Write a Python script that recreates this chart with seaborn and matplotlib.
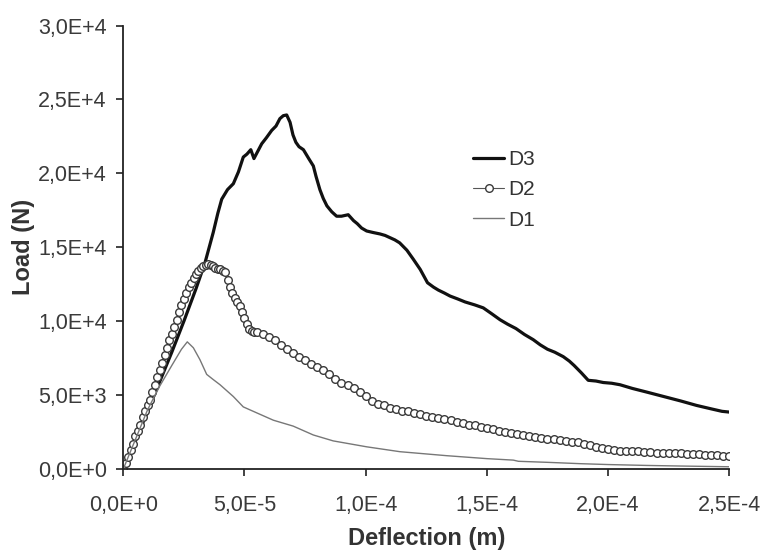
import numpy as np
import pandas as pd
import matplotlib
matplotlib.use("Agg")
import matplotlib.pyplot as plt
from matplotlib.ticker import FuncFormatter
import seaborn as sns

# deflection in micrometres, load in kN
d3_defl = [0, 5, 10, 15, 20, 25, 30, 33.7, 37.1, 39, 40.6, 43, 45.4, 47.5, 49.5, 51, 52.6,
           53.9, 55.5, 57.1, 59, 61.2, 63, 64.6, 66, 67.4, 68.8, 70, 71.2, 72.5, 74.3, 76.5,
           78.4, 79.5, 81.1, 82.5, 84, 86, 88, 90, 92.8, 95, 96.5, 98.3, 100.4, 103, 105.9,
           108, 110, 112, 114, 117, 119.6, 122.5, 125.5, 128, 130, 132.5, 134.8, 138, 141,
           145, 148.5, 152, 155.4, 158.5, 162, 165.5, 169.1, 172, 175, 178, 181.5, 184, 186,
           189, 191.8, 195, 198, 201.5, 204.9, 210, 216, 223, 230, 236.5, 243, 247, 250]
d3_load = [0, 1.9, 3.9, 5.9, 7.9, 10.0, 12.2, 13.95, 16.0, 17.3, 18.25, 18.9, 19.3, 20.1, 21.1,
           21.3, 21.6, 21.0, 21.5, 22.0, 22.4, 22.9, 23.2, 23.7, 23.9, 23.95, 23.45, 22.6, 22.1,
           21.8, 21.6, 21.0, 20.5, 19.8, 18.9, 18.3, 17.8, 17.4, 17.1, 17.1, 17.2, 16.8, 16.6,
           16.3, 16.1, 16.0, 15.9, 15.8, 15.65, 15.5, 15.3, 14.8, 14.2, 13.5, 12.6, 12.3, 12.1,
           11.9, 11.7, 11.5, 11.3, 11.1, 10.9, 10.5, 10.1, 9.8, 9.5, 9.1, 8.75, 8.4, 8.1, 7.9,
           7.6, 7.3, 7.0, 6.5, 6.0, 5.95, 5.85, 5.8, 5.7, 5.45, 5.2, 4.9, 4.6, 4.3, 4.05, 3.9,
           3.85]

d2_defl = [0, 1, 2, 3, 4, 5, 6, 7, 8, 9, 10, 11, 12, 13, 14, 15, 16, 17, 18, 19, 20,
           21, 22, 23, 24, 25, 26, 27, 28, 29, 30, 31, 32, 33, 34, 35, 36, 37, 38, 39, 40,
           41, 42, 43, 44, 45, 46, 47, 48, 49, 50, 51, 52, 53, 54, 55,
           57.5, 60, 62.5, 65, 67.5, 70, 72.5, 75, 77.5, 80, 82.5, 85, 87.5, 90, 92.5, 95,
           97.5, 100, 102.5, 105, 107.5, 110, 112.5, 115, 117.5, 120, 122.5, 125, 127.5,
           130, 132.5, 135, 137.5, 140, 142.5, 145, 147.5, 150, 152.5, 155, 157.5, 160,
           162.5, 165, 167.5, 170, 172.5, 175, 177.5, 180, 182.5, 185, 187.5, 190, 192.5,
           195, 197.5, 200, 202.5, 205, 207.5, 210, 212.5, 215, 217.5, 220, 222.5, 225,
           227.5, 230, 232.5, 235, 237.5, 240, 242.5, 245, 247.5, 250]
d2_load = [0, 0.4, 0.8, 1.3, 1.7, 2.2, 2.6, 3.0, 3.5, 3.9, 4.3, 4.7, 5.2, 5.7, 6.2, 6.7, 7.2,
           7.7, 8.2, 8.7, 9.1, 9.6, 10.1, 10.6, 11.1, 11.5, 11.9, 12.3, 12.6, 12.9, 13.2, 13.4,
           13.6, 13.7, 13.8, 13.85, 13.8, 13.7, 13.6, 13.5, 13.5, 13.4, 13.3, 12.8, 12.3, 11.9,
           11.6, 11.3, 11.0, 10.6, 10.2, 9.8, 9.5, 9.35, 9.3, 9.3,
           9.1, 8.9, 8.7, 8.4, 8.1, 7.85, 7.6, 7.4, 7.1, 6.9, 6.7, 6.45, 6.1, 5.85, 5.65, 5.45,
           5.2, 4.95, 4.6, 4.4, 4.3, 4.15, 4.05, 3.95, 3.9, 3.8, 3.7, 3.6, 3.5,
           3.45, 3.35, 3.3, 3.2, 3.1, 3.0, 2.95, 2.85, 2.75, 2.7, 2.6, 2.5, 2.45,
           2.35, 2.3, 2.2, 2.15, 2.1, 2.05, 2.0, 1.95, 1.9, 1.85, 1.8, 1.7, 1.6,
           1.5, 1.4, 1.35, 1.3, 1.25, 1.25, 1.2, 1.2, 1.15, 1.15, 1.1, 1.1, 1.1,
           1.05, 1.05, 1.0, 1.0, 1.0, 0.95, 0.95, 0.95, 0.9, 0.9]

d1_defl = [0, 5, 10, 15, 20, 24, 26.4, 28.9, 31.6, 34.4, 37.1, 39.9, 45.4, 49.5, 55, 61.9,
           70.1, 78.4, 86.6, 100.4, 114.1, 133.4, 150, 160.9, 163, 175, 188.4, 200, 216,
           230, 250]
d1_load = [0, 2.0, 4.0, 5.6, 7.0, 8.1, 8.6, 8.2, 7.4, 6.4, 6.05, 5.7, 4.9, 4.2, 3.8, 3.3,
           2.9, 2.3, 1.9, 1.5, 1.17, 0.9, 0.7, 0.6, 0.52, 0.45, 0.36, 0.3, 0.24, 0.2, 0.15]

x_ticks = [0, 5e-5, 1e-4, 1.5e-4, 2e-4, 2.5e-4]
y_ticks = [0, 5e3, 1e4, 1.5e4, 2e4, 2.5e4, 3e4]


def sci_comma(v, pos):
    if v == 0:
        return "0,0E+0"
    mant, exp = f"{v:.1E}".split("E")
    return f"{mant.replace('.', ',')}E{int(exp):+d}"


def to_frame(defl, load):
    return pd.DataFrame({"x": np.array(defl) * 1e-6, "y": np.array(load) * 1e3})


sns.set_style("ticks")
plt.rcParams["font.family"] = ["Liberation Sans", "DejaVu Sans"]

fig = plt.figure(figsize=(7.63, 5.5), dpi=100)
ax = fig.add_axes([0.1616, 0.1473, 0.7942, 0.8063])

sns.lineplot(data=to_frame(d3_defl, d3_load), x="x", y="y", ax=ax, color="#111111",
             linewidth=2.3, label="D3")
sns.lineplot(data=to_frame(d2_defl, d2_load), x="x", y="y", ax=ax, color="#555555",
             linewidth=0.8, marker="o", markersize=5.5, markerfacecolor="white",
             markeredgecolor="#3a3a3a", markeredgewidth=1.0, label="D2")
sns.lineplot(data=to_frame(d1_defl, d1_load), x="x", y="y", ax=ax, color="#777777",
             linewidth=1.0, label="D1")

ax.set_xlim(0, 2.5e-4)
ax.set_ylim(0, 3e4)
ax.set_xticks(x_ticks)
ax.set_yticks(y_ticks)
ax.xaxis.set_major_formatter(FuncFormatter(sci_comma))
ax.yaxis.set_major_formatter(FuncFormatter(sci_comma))
ax.tick_params(direction="out", length=5, width=1.2, colors="#222222",
               labelsize=15.5, labelcolor="#3a3a3a")
ax.tick_params(axis="x", pad=14)
ax.tick_params(axis="y", pad=7)
for side in ["left", "bottom"]:
    ax.spines[side].set_linewidth(1.3)
    ax.spines[side].set_color("#222222")
sns.despine(ax=ax)

ax.set_xlabel("Deflection (m)", fontsize=17, fontweight="bold", color="#333333", labelpad=8)
ax.set_ylabel("Load (N)", fontsize=17, fontweight="bold", color="#333333", labelpad=2)

leg = ax.legend(loc="upper left", bbox_to_anchor=(0.546, 0.762), frameon=False,
                fontsize=15, handlelength=1.5, labelspacing=0.55, handletextpad=0.2)
for t in leg.get_texts():
    t.set_color("#333333")

fig.savefig("out.png", dpi=100)
